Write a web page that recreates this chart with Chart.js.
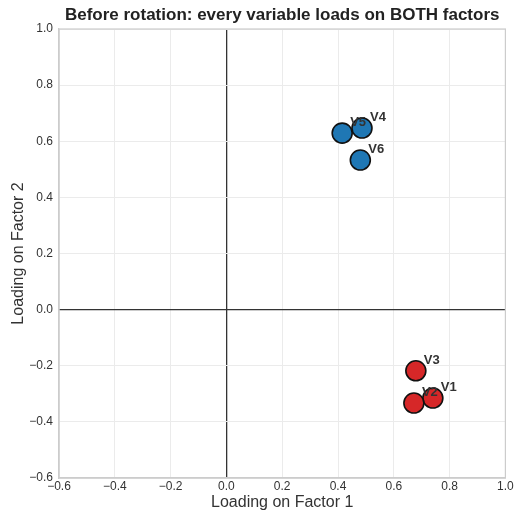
<!DOCTYPE html>
<html>
<head>
<meta charset="utf-8">
<script src="https://cdn.jsdelivr.net/npm/chart.js@4"></script>
<style>
  html, body { margin: 0; padding: 0; background: #fff; }
  #wrap { width: 517px; height: 512px; }
</style>
</head>
<body>
<div id="wrap"><canvas id="loadingChart" width="517" height="512"></canvas></div>
<script>
// loadings
const factor1Labels = ['V4', 'V5', 'V6'];
const factor1X = [0.486, 0.415, 0.480];
const factor1Y = [0.647, 0.629, 0.533];

const factor2Labels = ['V1', 'V2', 'V3'];
const factor2X = [0.740, 0.672, 0.679];
const factor2Y = [-0.315, -0.333, -0.218];

const tickValues = [-0.6, -0.4, -0.2, 0.0, 0.2, 0.4, 0.6, 0.8, 1.0];

const chartTitle = 'Before rotation: every variable loads on BOTH factors';

const FONT = '"Liberation Sans", Arial, sans-serif';

function toPoints(xs, ys, labels) {
    return xs.map(function(x, i) { return { x: x, y: ys[i], label: labels[i] }; });
}

function fmt(v) {
    return v.toFixed(1).replace('-', '\u2212');
}

// frame, title over the plot area, x tick labels and point names
// (x tick labels drawn here so the last one doesn't shrink the plot area)
const decorations = {
    id: 'decorations',
    afterDatasetsDraw: function(chart) {
        const c = chart.ctx;
        const a = chart.chartArea;
        const xScale = chart.scales.x;
        c.save();
        c.strokeStyle = '#cccccc';
        c.lineWidth = 1.2;
        c.strokeRect(a.left, a.top, a.right - a.left, a.bottom - a.top);

        c.font = 'bold 17px ' + FONT;
        c.fillStyle = '#222';
        c.textAlign = 'center';
        c.textBaseline = 'middle';
        c.fillText(chartTitle, (a.left + a.right) / 2, 15);

        c.font = '12px ' + FONT;
        c.fillStyle = '#333';
        tickValues.forEach(function(v) {
            c.fillText(fmt(v), xScale.getPixelForValue(v), a.bottom + 9);
        });

        c.font = 'bold 13px ' + FONT;
        c.textAlign = 'left';
        c.textBaseline = 'alphabetic';
        chart.data.datasets.forEach(function(ds, di) {
            chart.getDatasetMeta(di).data.forEach(function(el, i) {
                c.fillText(ds.data[i].label, el.x + 8, el.y - 7);
            });
        });
        c.restore();
    }
};

const zeroColor = function(ctx) {
    return ctx.tick && Math.abs(ctx.tick.value) < 1e-9 ? '#333' : '#ebebeb';
};
const zeroWidth = function(ctx) {
    return ctx.tick && Math.abs(ctx.tick.value) < 1e-9 ? 1.3 : 1;
};

new Chart(document.getElementById('loadingChart'), {
    type: 'scatter',
    data: {
        datasets: [{
            data: toPoints(factor1X, factor1Y, factor1Labels),
            backgroundColor: '#1f77b4',
            borderColor: '#111',
            borderWidth: 1.6,
            pointRadius: 10,
            pointHoverRadius: 10
        }, {
            data: toPoints(factor2X, factor2Y, factor2Labels),
            backgroundColor: '#d62728',
            borderColor: '#111',
            borderWidth: 1.6,
            pointRadius: 10,
            pointHoverRadius: 10
        }]
    },
    options: {
        responsive: false,
        animation: false,
        layout: { padding: { left: 0, right: 9, top: 29, bottom: 0 } },
        plugins: {
            legend: { display: false },
            tooltip: { enabled: false },
            title: { display: false }
        },
        scales: {
            x: {
                type: 'linear',
                min: -0.6,
                max: 1.0,
                afterBuildTicks: function(axis) {
                    axis.ticks = tickValues.map(function(v) { return { value: v }; });
                },
                afterFit: function(axis) {
                    axis.height = 34;
                },
                ticks: { display: false },
                grid: { color: zeroColor, lineWidth: zeroWidth, tickLength: 0 },
                border: { color: '#cccccc', width: 1.2 },
                title: {
                    display: true,
                    text: 'Loading on Factor 1',
                    color: '#333',
                    padding: { top: 0, bottom: 0 },
                    font: { family: FONT, size: 16 }
                }
            },
            y: {
                type: 'linear',
                min: -0.6,
                max: 1.0,
                afterBuildTicks: function(axis) {
                    axis.ticks = tickValues.map(function(v) { return { value: v }; });
                },
                afterFit: function(axis) {
                    axis.width = 59;
                },
                ticks: {
                    callback: fmt,
                    color: '#333',
                    padding: 6,
                    font: { family: FONT, size: 12 }
                },
                grid: { color: zeroColor, lineWidth: zeroWidth, tickLength: 0 },
                border: { color: '#cccccc', width: 1.2 },
                title: {
                    display: true,
                    text: 'Loading on Factor 2',
                    color: '#333',
                    padding: { top: 9, bottom: 0 },
                    font: { family: FONT, size: 16 }
                }
            }
        }
    },
    plugins: [decorations]
});
</script>
</body>
</html>
